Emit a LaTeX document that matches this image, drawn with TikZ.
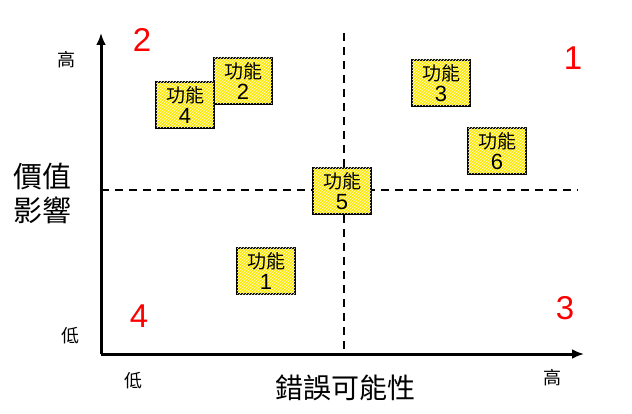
\documentclass[tikz,border=0pt]{standalone}
\usepackage{fontspec}
\setmainfont{Liberation Sans}
\newfontfamily\cjk{Noto Sans CJK TC}
\usetikzlibrary{patterns,arrows.meta}
\newcommand{\featnum}[1]{{\rmfamily\fontsize{22}{22}\selectfont #1}}
\tikzset{
  feature/.style={draw, line width=1.6pt, fill=yellow!90!orange, minimum width=58pt, minimum height=46pt, inner sep=0pt, align=center, font=\cjk\fontsize{19}{21}\selectfont,
    postaction={pattern=north east lines, pattern color=white!90!yellow}},
  quadrant/.style={text=red, font=\fontsize{33}{33}\selectfont},
  ticklabel/.style={font=\cjk\fontsize{18}{18}\selectfont},
  axis/.style={line width=3pt, -{Latex[length=12pt,width=10pt]}},
  divider/.style={line width=1.8pt, dash pattern=on 8pt off 6pt}
}
\begin{document}
\begin{tikzpicture}[x=1pt,y=-1pt]
  \useasboundingbox (0,0) rectangle (632,414);
  % axes
  \coordinate (origin) at (101,354);
  \coordinate (ytop) at (101,33);
  \coordinate (xend) at (584,354);
  \draw[axis] (origin) -- (ytop);
  \draw[axis] (origin) -- (xend);
  % dividers
  \coordinate (vtop) at (344,33);
  \coordinate (vbot) at (344,354);
  \coordinate (hleft) at (101,190);
  \coordinate (hright) at (578,190);
  \draw[divider] (vtop) -- (vbot);
  \draw[divider] (hleft) -- (hright);
  % features
  \node[feature] (f2) at (243,81) {功能\\\featnum{2}};
  \node[feature] (f4) at (185,105) {功能\\\featnum{4}};
  \node[feature] (f3) at (441,83) {功能\\\featnum{3}};
  \node[feature] (f6) at (497,151) {功能\\\featnum{6}};
  \node[feature] (f5) at (342,191) {功能\\\featnum{5}};
  \node[feature] (f1) at (266,271) {功能\\\featnum{1}};
  % quadrant numbers
  \node[quadrant] (q2) at (142,40) {2};
  \node[quadrant] (q1) at (573,58) {1};
  \node[quadrant] (q4) at (139,316) {4};
  \node[quadrant] (q3) at (565,308) {3};
  % labels
  \node[ticklabel] (yhigh) at (66,60) {高};
  \node[ticklabel] (ylow) at (70,336) {低};
  \node[ticklabel] (xlow) at (133,381) {低};
  \node[ticklabel] (xhigh) at (552,378) {高};
  \node[font=\cjk\fontsize{28}{28}\selectfont] (xlabel) at (345,388) {錯誤可能性};
  \node[font=\cjk\fontsize{29}{34}\selectfont, align=center] (ylabel) at (42,193) {價值\\影響};
\end{tikzpicture}
\end{document}
